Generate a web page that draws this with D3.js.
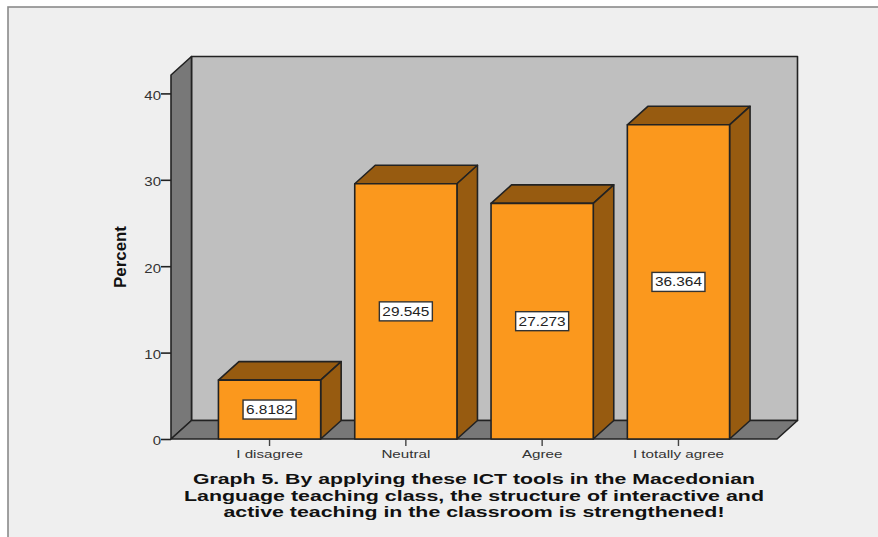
<!DOCTYPE html>
<html>
<head>
<meta charset="utf-8">
<script src="https://d3js.org/d3.v7.min.js"></script>
<style>
html,body{margin:0;padding:0;background:#fff;overflow:hidden}
svg{display:block}
text{font-family:"Liberation Sans",Arial,sans-serif}
</style>
</head>
<body>
<svg id="c" width="878" height="537"></svg>
<script>
const categories = ["I disagree", "Neutral", "Agree", "I totally agree"];
const percents = [6.8182, 29.545, 27.273, 36.364];
const barLabels = ["6.8182", "29.545", "27.273", "36.364"];
const yTicks = [0, 10, 20, 30, 40];
const titleLines = [
  "Graph 5. By applying these ICT tools in the Macedonian",
  "Language teaching class, the structure of interactive and",
  "active teaching in the classroom is strengthened!"
];
const yTitle = "Percent";

const svg = d3.select("#c");
const W = 878, H = 537;
const ink = "#222";
const depthX = 20.5, depthY = 18.5;
const plotLeft = 171, plotRight = 777, base = 439;

// widen a text's glyphs horizontally, as in the stretched original
const stretch = (sel, k) => sel.each(function () {
  const el = d3.select(this);
  el.attr("textLength", this.getComputedTextLength() * k).attr("lengthAdjust", "spacingAndGlyphs");
});

svg.append("rect").attr("x", 8).attr("y", 7).attr("width", W).attr("height", H)
  .attr("fill", "#efefef").attr("stroke", "#8a8a8a").attr("stroke-width", 1.6);

const x = d3.scaleBand().domain(categories).range([plotLeft, plotRight]).paddingInner(0.25).paddingOuter(0.348);
const y = d3.scaleLinear().domain([0, 42.13]).range([base, 75]);
const plotTop = y(42.13);

const poly = (pts, fill, sw = 1.6) => svg.append("polygon")
  .attr("points", pts.map(p => p.join(",")).join(" "))
  .attr("fill", fill).attr("stroke", ink).attr("stroke-width", sw).attr("stroke-linejoin", "round");

// back wall, side wall, floor
poly([[plotLeft + depthX, plotTop - depthY], [plotRight + depthX, plotTop - depthY], [plotRight + depthX, base - depthY], [plotLeft + depthX, base - depthY]], "#bfbfbf");
poly([[plotLeft, plotTop], [plotLeft + depthX, plotTop - depthY], [plotLeft + depthX, base - depthY], [plotLeft, base]], "#787878");
poly([[plotLeft, base], [plotLeft + depthX, base - depthY], [plotRight + depthX, base - depthY], [plotRight, base]], "#787878");

// y axis
const yAxis = d3.axisLeft(y).tickValues(yTicks).tickSize(10).tickPadding(0).tickFormat(d3.format("d"));
const gy = svg.append("g").attr("transform", `translate(${plotLeft},0)`).call(yAxis);
gy.select(".domain").remove();
gy.selectAll("line").attr("stroke", ink).attr("stroke-width", 1.6);
gy.selectAll("text").attr("font-size", 12.5).attr("fill", "#333").attr("dy", "0.47em").attr("font-family", '"Liberation Sans"').call(stretch, 1.2);

// x axis
const xAxis = d3.axisBottom(x).tickSize(7).tickPadding(3.5);
const gx = svg.append("g").attr("transform", `translate(0,${base})`).call(xAxis);
gx.select(".domain").remove();
gx.selectAll("line").attr("stroke", "#444").attr("stroke-width", 1.4);
gx.selectAll("text").attr("font-size", 11.5).attr("fill", "#333").attr("font-family", '"Liberation Sans"').call(stretch, 1.32);

// bars
categories.forEach((c, i) => {
  const x0 = x(c), x1 = x0 + x.bandwidth(), t = y(percents[i]);
  poly([[x0, t], [x0 + depthX, t - depthY], [x1 + depthX, t - depthY], [x1, t]], "#975b10");
  poly([[x1, t], [x1 + depthX, t - depthY], [x1 + depthX, base - depthY], [x1, base]], "#975b10");
  poly([[x0, t], [x1, t], [x1, base], [x0, base]], "#fb981d");

  const cx = x0 + x.bandwidth() / 2, cy = (t + base) / 2;
  svg.append("rect").attr("x", cx - 26.5).attr("y", cy - 9.5).attr("width", 53).attr("height", 19)
    .attr("fill", "#fff").attr("stroke", "#333").attr("stroke-width", 1.4);
  svg.append("text").attr("x", cx).attr("y", cy + 4.5).attr("text-anchor", "middle")
    .attr("font-size", 12.5).attr("fill", "#222").text(barLabels[i]).call(stretch, 1.23);
});

// y title
svg.append("text").attr("transform", "translate(126,257) rotate(-90)")
  .attr("text-anchor", "middle").attr("font-size", 17).attr("font-weight", "bold").attr("fill", "#111")
  .attr("textLength", 62).attr("lengthAdjust", "spacingAndGlyphs").text(yTitle);

// chart title
const lens = [562, 580, 501];
titleLines.forEach((s, i) => {
  svg.append("text").attr("x", 474).attr("y", 484 + i * 16.5).attr("text-anchor", "middle")
    .attr("font-size", 15.5).attr("font-weight", "bold").attr("fill", "#111")
    .attr("textLength", lens[i]).attr("lengthAdjust", "spacingAndGlyphs").text(s);
});
</script>
</body>
</html>
